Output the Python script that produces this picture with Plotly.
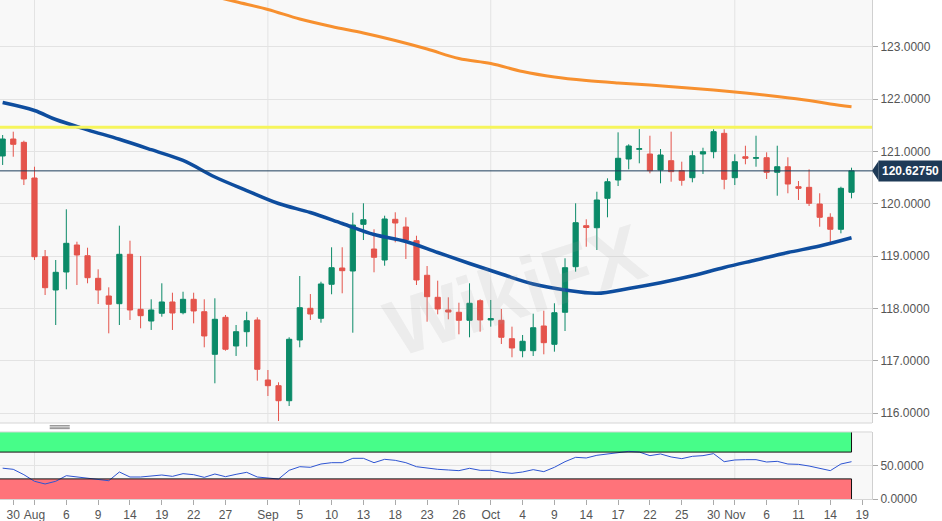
import plotly.graph_objects as go
import numpy as np

# ---------------- data ----------------
opens = [120.912, 121.236, 121.173, 120.491, 118.987, 118.351, 118.695, 119.211, 119.006, 118.574,
         118.236, 118.089, 119.033, 117.982, 117.758, 117.906, 118.122, 117.917, 118.173, 117.936,
         117.122, 117.829, 117.281, 117.554, 117.778, 116.631, 116.522, 116.235, 117.395, 118.001,
         117.810, 118.460, 118.771, 118.714, 119.606, 119.134, 118.924, 119.702, 119.555, 119.293,
         118.632, 118.211, 117.969, 117.925, 117.772, 118.146, 117.778, 117.772, 117.420, 117.191,
         117.191, 117.663, 117.313, 117.925, 118.796, 119.580, 119.541, 120.103, 120.453, 120.854,
         121.040, 120.950, 120.644, 120.822, 120.631, 120.497, 120.950, 120.994, 121.345, 120.497,
         120.898, 120.868, 120.879, 120.600, 120.707, 120.325, 120.313, 119.994, 119.740, 119.511,
         120.218]
highs = [121.313, 121.376, 121.204, 120.707, 119.115, 118.924, 119.893, 119.274, 119.159, 118.746,
         118.402, 119.580, 119.293, 119.001, 118.173, 118.479, 118.299, 118.318, 118.299, 118.173,
         118.192, 117.873, 117.682, 117.936, 117.829, 116.822, 116.587, 117.447, 118.618, 118.274,
         118.509, 119.167, 119.167, 119.828, 120.008, 119.511, 119.771, 119.836, 119.740, 119.388,
         118.809, 118.529, 118.211, 118.108, 118.479, 118.173, 118.160, 117.988, 117.650, 117.491,
         117.898, 117.955, 118.097, 118.957, 120.008, 119.702, 120.229, 120.485, 121.364, 121.135,
         121.427, 121.299, 121.045, 121.376, 120.803, 121.013, 121.070, 121.422, 121.422, 120.944,
         121.108, 121.299, 120.982, 121.108, 120.887, 120.434, 120.657, 120.199, 119.817, 120.325,
         120.688]
lows = [120.740, 120.898, 120.357, 118.924, 118.255, 117.682, 118.364, 118.446, 118.479, 118.083,
        117.523, 117.682, 117.778, 117.619, 117.587, 117.841, 117.587, 117.886, 117.714, 117.256,
        116.568, 117.191, 117.090, 117.267, 116.618, 116.325, 115.847, 116.134, 117.256, 117.778,
        117.726, 118.269, 118.288, 117.535, 119.306, 118.689, 118.815, 119.262, 118.943, 118.446,
        117.745, 117.886, 117.791, 117.504, 117.447, 117.554, 117.650, 117.319, 117.065, 117.065,
        117.090, 117.122, 117.172, 117.567, 118.701, 119.178, 119.115, 119.740, 120.338, 120.657,
        120.772, 120.581, 120.390, 120.420, 120.344, 120.409, 120.568, 120.868, 120.275, 120.357,
        120.753, 120.707, 120.472, 120.153, 120.199, 120.071, 119.956, 119.560, 119.243, 119.434,
        120.103]
closes = [121.236, 121.135, 120.472, 118.987, 118.395, 118.689, 119.243, 119.020, 118.586, 118.351,
          118.078, 119.033, 117.969, 117.860, 117.969, 118.122, 117.911, 118.173, 117.950, 117.472,
          117.791, 117.218, 117.554, 117.764, 116.835, 116.522, 116.235, 117.409, 118.013, 117.892,
          118.466, 118.777, 118.720, 119.593, 119.694, 118.976, 119.708, 119.631, 119.306, 118.542,
          118.223, 117.988, 117.930, 117.772, 118.097, 117.778, 117.804, 117.447, 117.243, 117.371,
          117.630, 117.344, 117.917, 118.777, 119.637, 119.545, 120.071, 120.420, 120.868, 121.103,
          121.051, 120.631, 120.931, 120.612, 120.447, 120.917, 120.994, 121.376, 120.466, 120.803,
          120.868, 120.879, 120.600, 120.707, 120.376, 120.294, 120.008, 119.740, 119.511, 120.294,
          120.6275]

# 100-period moving average (blue), sampled at candle positions
ma_fast_idx = [0, 3, 5, 8, 11, 14, 17, 20, 23, 26, 29, 32, 35, 38, 41, 44, 47, 50, 53, 56,
               59, 62, 65, 68, 71, 74, 77, 80]
ma_fast_val = [121.934, 121.781, 121.609, 121.412, 121.231, 121.032, 120.826, 120.510, 120.252,
               120.004, 119.832, 119.622, 119.411, 119.278, 119.067, 118.857, 118.657, 118.465,
               118.351, 118.288, 118.380, 118.490, 118.622, 118.781, 118.924, 119.067, 119.192,
               119.350]
# 200-period moving average (orange)
ma_slow_idx = [19, 22, 25, 28, 31, 34, 37, 40, 43, 46, 49, 52, 55, 58, 61, 64, 67, 70, 73, 76, 78, 80]
ma_slow_val = [124.008, 123.858, 123.711, 123.529, 123.386, 123.262, 123.119, 122.956, 122.775,
               122.679, 122.526, 122.421, 122.354, 122.307, 122.268, 122.221, 122.173, 122.115,
               122.049, 121.972, 121.905, 121.854]

resistance = 121.46
last_price = 120.6275

rsi = [46.0, 44.3, 36.3, 26.4, 22.4, 26.4, 34.8, 32.8, 30.3, 28.8,
       27.3, 40.3, 32.8, 32.8, 33.8, 35.8, 33.8, 37.8, 36.3, 32.3,
       37.3, 33.3, 36.8, 39.8, 32.8, 31.3, 29.8, 42.8, 48.2, 47.3,
       52.2, 54.2, 54.2, 60.7, 60.7, 54.2, 59.2, 57.7, 54.2, 48.2,
       45.8, 44.3, 43.3, 42.3, 45.8, 42.8, 42.8, 39.8, 38.3, 40.3,
       43.8, 40.8, 47.3, 55.7, 62.2, 61.2, 65.2, 67.2, 69.2, 71.1,
       70.1, 64.7, 67.2, 62.7, 60.2, 63.7, 64.7, 67.7, 55.7, 58.2,
       58.7, 58.7, 55.2, 56.2, 52.2, 51.7, 49.2, 46.3, 42.3, 52.2,
       55.7]
rsi_upper = 70
rsi_lower = 30

tick_idx = [1, 3, 6, 9, 12, 15, 18, 21, 25, 28, 31, 34, 37, 40, 43, 46, 49, 52, 55, 58,
            61, 64, 67, 69, 72, 75, 78, 81]
tick_text = ["30", "Aug", "6", "9", "14", "19", "22", "27", "Sep", "5", "10", "13", "18", "23",
             "26", "Oct", "4", "9", "14", "17", "22", "25", "30", "Nov", "6", "11", "14", "19"]
month_idx = [3, 25, 46, 69]

# ---------------- styling ----------------
GREEN = "#0b8a68"
RED = "#e4544c"
GRID = "#e3e3e3"
FONT = dict(family="Arial, Liberation Sans, sans-serif", size=12, color="#555555")

idx = np.arange(len(opens))
xmin, xmax = -0.25, 81.93
last_i = int(idx[-1])

fig = go.Figure()

fig.add_trace(go.Candlestick(
    x=idx, open=opens, high=highs, low=lows, close=closes,
    increasing=dict(line=dict(color=GREEN, width=1), fillcolor=GREEN),
    decreasing=dict(line=dict(color=RED, width=1), fillcolor=RED),
    whiskerwidth=0, showlegend=False, hoverinfo="skip",
    xaxis="x", yaxis="y"))

fig.add_trace(go.Scatter(
    x=ma_slow_idx, y=ma_slow_val, mode="lines",
    line=dict(color="#f7902f", width=3, shape="spline"),
    showlegend=False, hoverinfo="skip", xaxis="x", yaxis="y"))

fig.add_trace(go.Scatter(
    x=ma_fast_idx, y=ma_fast_val, mode="lines",
    line=dict(color="#0e4d9e", width=3.5, shape="spline"),
    showlegend=False, hoverinfo="skip", xaxis="x", yaxis="y"))

fig.add_trace(go.Scatter(
    x=idx, y=rsi, mode="lines",
    line=dict(color="#2d54d2", width=1),
    showlegend=False, hoverinfo="skip", xaxis="x", yaxis="y2"))

shapes = []
# month grid lines
for m in month_idx:
    for yr in ("y domain", "y2 domain"):
        shapes.append(dict(type="line", xref="x", yref=yr, x0=m, x1=m, y0=0, y1=1,
                           line=dict(color=GRID, width=1), layer="below"))
# RSI bands
shapes.append(dict(type="rect", xref="x", yref="y2", x0=xmin, x1=last_i, y0=rsi_upper, y1=100,
                   fillcolor="#47fd89", line=dict(width=0), layer="below"))
shapes.append(dict(type="rect", xref="x", yref="y2", x0=xmin, x1=last_i, y0=0, y1=rsi_lower,
                   fillcolor="#ff737a", line=dict(width=0), layer="below"))
for lv in (rsi_upper, rsi_lower):
    shapes.append(dict(type="line", xref="x", yref="y2", x0=xmin, x1=last_i, y0=lv, y1=lv,
                       line=dict(color="#111111", width=1)))
shapes.append(dict(type="line", xref="x", yref="y2", x0=last_i, x1=last_i, y0=rsi_upper, y1=100,
                   line=dict(color="#111111", width=1)))
shapes.append(dict(type="line", xref="x", yref="y2", x0=last_i, x1=last_i, y0=0, y1=rsi_lower,
                   line=dict(color="#111111", width=1)))
# panel borders
shapes.append(dict(type="line", xref="paper", yref="y domain", x0=0, x1=1, y0=0, y1=0,
                   line=dict(color="#d6d6d6", width=1)))
shapes.append(dict(type="line", xref="paper", yref="y2 domain", x0=0, x1=1, y0=1, y1=1,
                   line=dict(color="#d6d6d6", width=1)))
# resize handle
for yy in (0.1470, 0.1440, 0.1410):
    shapes.append(dict(type="line", xref="paper", yref="paper", x0=0.057, x1=0.080, y0=yy, y1=yy,
                       line=dict(color="#8a8a8a", width=1)))
# resistance (yellow) and last-price line
shapes.append(dict(type="line", xref="paper", yref="y", x0=0, x1=1, y0=resistance, y1=resistance,
                   line=dict(color="#f6f55c", width=3)))
shapes.append(dict(type="line", xref="paper", yref="y", x0=0, x1=1, y0=last_price, y1=last_price,
                   line=dict(color="#1d3d5c", width=1)))
# price tag arrow
shapes.append(dict(type="path", xref="paper", yref="y",
                   path=f"M 1.0,{last_price} L 1.0075,{last_price + 0.19} L 1.0075,{last_price - 0.19} Z",
                   fillcolor="#1e3a57", line=dict(width=0)))

annotations = [
    dict(xref="paper", yref="y", x=1.0, y=last_price, xanchor="left", yanchor="middle", xshift=6,
         text=f"<b>{last_price:.5f}</b>", showarrow=False,
         font=dict(family="Arial, Liberation Sans, sans-serif", size=12, color="white"),
         bgcolor="#1e3a57", borderpad=3),
    dict(xref="x", yref="y", x=48.3, y=118.35, text="<b>WikiFX</b>", showarrow=False,
         textangle=-18, font=dict(family="Arial, Liberation Sans, sans-serif", size=80,
                                  color="rgba(160,160,160,0.14)")),
]

fig.update_layout(
    width=942, height=521,
    margin=dict(l=0, r=70, t=0, b=22),
    paper_bgcolor="#ffffff",
    plot_bgcolor="#f8f8f8",
    font=FONT,
    showlegend=False,
    xaxis=dict(domain=[0, 1], range=[xmin, xmax], anchor="y2",
               tickmode="array", tickvals=tick_idx, ticktext=tick_text,
               ticks="outside", ticklen=5, tickcolor="#aaaaaa",
               showgrid=False, zeroline=False, showline=True, linecolor="#d6d6d6",
               rangeslider=dict(visible=False), tickfont=FONT, fixedrange=True),
    yaxis=dict(domain=[0.1523, 1], range=[115.809, 123.893], side="right", anchor="x",
               dtick=1, tick0=0, tickformat=".4f", ticks="outside", ticklen=5, tickcolor="#aaaaaa",
               showgrid=True, gridcolor=GRID, zeroline=False, showline=True, linecolor="#d0d0d0",
               tickfont=FONT),
    yaxis2=dict(domain=[0, 0.1343], range=[0, 100], side="right", anchor="x",
                tickmode="array", tickvals=[0, 50], tickformat=".4f",
                ticks="outside", ticklen=5, tickcolor="#aaaaaa",
                showgrid=True, gridcolor=GRID, zeroline=False, showline=True, linecolor="#d0d0d0",
                tickfont=FONT),
    shapes=shapes,
    annotations=annotations,
)

fig.write_html("out.html", config={"displayModeBar": False},
               post_script="document.body.style.margin='0';document.body.style.overflow='hidden';")
